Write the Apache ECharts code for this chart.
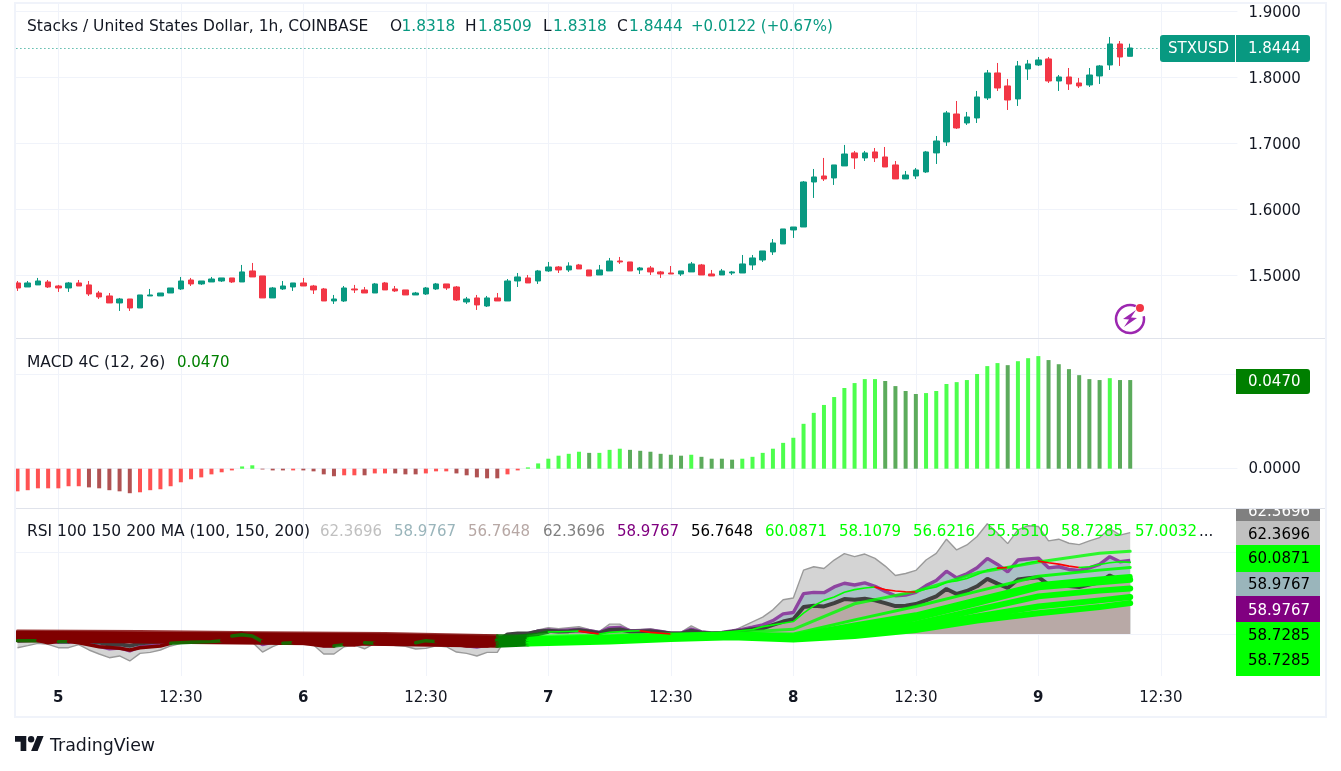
<!DOCTYPE html>
<html><head><meta charset="utf-8">
<style>html,body{margin:0;padding:0;background:#fff}#c{width:1341px;height:771px}</style>
<script src="https://cdn.jsdelivr.net/npm/echarts@6/dist/echarts.min.js"></script>
</head><body><div id="c"></div>
<script>
const FONT = '"DejaVu Sans"';
// [open, close, low, high]
const candles = [
[1.4884,1.4808,1.4763,1.4914],[1.4823,1.4884,1.4823,1.4914],[1.4854,1.4914,1.4854,1.4960],[1.4899,1.4823,1.4808,1.4929],
[1.4838,1.4808,1.4748,1.4854],[1.4808,1.4884,1.4748,1.4899],[1.4884,1.4838,1.4838,1.4929],[1.4854,1.4717,1.4687,1.4914],
[1.4732,1.4672,1.4641,1.4763],[1.4687,1.4581,1.4581,1.4732],[1.4581,1.4641,1.4460,1.4657],[1.4641,1.4505,1.4460,1.4641],
[1.4505,1.4702,1.4505,1.4702],[1.4687,1.4702,1.4687,1.4793],[1.4687,1.4732,1.4687,1.4732],[1.4732,1.4808,1.4732,1.4808],
[1.4793,1.4914,1.4778,1.4975],[1.4929,1.4869,1.4838,1.4960],[1.4869,1.4914,1.4854,1.4914],[1.4899,1.4944,1.4899,1.4975],
[1.4914,1.4960,1.4899,1.4960],[1.4960,1.4899,1.4884,1.4960],[1.4899,1.5051,1.4899,1.5157],[1.5066,1.4975,1.4975,1.5187],
[1.4990,1.4657,1.4657,1.4990],[1.4657,1.4808,1.4657,1.4823],[1.4793,1.4838,1.4778,1.4914],[1.4823,1.4884,1.4763,1.4884],
[1.4884,1.4838,1.4838,1.4960],[1.4838,1.4778,1.4717,1.4854],[1.4793,1.4611,1.4611,1.4808],[1.4611,1.4641,1.4566,1.4702],
[1.4611,1.4808,1.4596,1.4838],[1.4793,1.4778,1.4732,1.4854],[1.4778,1.4732,1.4732,1.4823],[1.4732,1.4869,1.4732,1.4884],
[1.4884,1.4778,1.4778,1.4899],[1.4793,1.4763,1.4748,1.4838],[1.4778,1.4702,1.4702,1.4778],[1.4702,1.4732,1.4702,1.4748],
[1.4717,1.4808,1.4702,1.4823],[1.4793,1.4869,1.4778,1.4884],[1.4869,1.4808,1.4778,1.4869],[1.4823,1.4626,1.4611,1.4838],
[1.4596,1.4641,1.4566,1.4672],[1.4657,1.4551,1.4475,1.4702],[1.4535,1.4657,1.4520,1.4687],[1.4657,1.4611,1.4611,1.4732],
[1.4611,1.4914,1.4611,1.4944],[1.4914,1.4975,1.4823,1.5035],[1.4960,1.4884,1.4884,1.5005],[1.4914,1.5066,1.4869,1.5081],
[1.5066,1.5126,1.5051,1.5202],[1.5126,1.5081,1.5035,1.5141],[1.5081,1.5141,1.5051,1.5197],[1.5157,1.5096,1.5096,1.5172],
[1.5081,1.4990,1.4990,1.5081],[1.5005,1.5081,1.5005,1.5157],[1.5066,1.5217,1.5066,1.5263],[1.5217,1.5202,1.5172,1.5278],
[1.5202,1.5066,1.5066,1.5202],[1.5081,1.5111,1.5020,1.5126],[1.5111,1.5051,1.5005,1.5141],[1.5051,1.5020,1.4960,1.5066],
[1.5035,1.5020,1.5020,1.5141],[1.5020,1.5066,1.4990,1.5066],[1.5051,1.5172,1.5051,1.5202],[1.5157,1.5005,1.5005,1.5172],
[1.5020,1.4990,1.4990,1.5081],[1.5005,1.5066,1.5005,1.5096],[1.5035,1.5051,1.5005,1.5066],[1.5035,1.5172,1.5035,1.5308],
[1.5157,1.5263,1.5081,1.5308],[1.5232,1.5369,1.5202,1.5369],[1.5354,1.5490,1.5308,1.5550],[1.5475,1.5702,1.5475,1.5702],
[1.5687,1.5732,1.5566,1.5732],[1.5732,1.6414,1.5732,1.6429],[1.6414,1.6490,1.6172,1.6611],[1.6505,1.6460,1.6429,1.6778],
[1.6475,1.6672,1.6369,1.6672],[1.6657,1.6838,1.6657,1.6975],[1.6854,1.6778,1.6611,1.6884],[1.6778,1.6854,1.6732,1.6884],
[1.6869,1.6778,1.6717,1.6929],[1.6793,1.6641,1.6641,1.6944],[1.6672,1.6460,1.6460,1.6732],[1.6460,1.6520,1.6460,1.6581],
[1.6505,1.6596,1.6460,1.6626],[1.6566,1.6869,1.6551,1.6884],[1.6854,1.7035,1.6687,1.7111],[1.7020,1.7460,1.6960,1.7490],
[1.7444,1.7232,1.7217,1.7641],[1.7308,1.7399,1.7278,1.7475],[1.7384,1.7702,1.7308,1.7793],[1.7687,1.8066,1.7656,1.8111],
[1.8066,1.7838,1.7793,1.8217],[1.7869,1.7656,1.7505,1.7975],[1.7672,1.8172,1.7566,1.8247],[1.8126,1.8202,1.7960,1.8263],
[1.8187,1.8263,1.8172,1.8308],[1.8278,1.7944,1.7914,1.8308],[1.7944,1.8005,1.7793,1.8035],[1.8005,1.7899,1.7808,1.8141],
[1.7914,1.7869,1.7838,1.7990],[1.7884,1.8035,1.7853,1.8141],[1.8020,1.8172,1.7899,1.8187],[1.8187,1.8505,1.8111,1.8611],
[1.8505,1.8308,1.8172,1.8550],[1.8318,1.8444,1.8318,1.8509]];
const macdValues = [
-.0120,-.0114,-.0104,-.0104,-.0104,-.0093,-.0093,-.0099,-.0104,-.0114,-.0120,-.0130,-.0125,-.0114,-.0109,-.0093,-.0072,-.0056,-.0046,-.0030,-.0019,-.0009,
.0012,.0018,-.0004,-.0009,-.0009,-.0009,-.0009,-.0014,-.0030,-.0040,-.0035,-.0035,-.0035,-.0025,-.0025,-.0025,-.0030,-.0030,-.0025,-.0014,-.0014,-.0025,-.0035,-.0046,-.0051,-.0051,-.0030,-.0009,
.0007,.0028,.0053,.0069,.0079,.0090,.0084,.0084,.0100,.0106,.0100,.0095,.0090,.0079,.0074,.0069,.0074,.0063,.0053,.0053,.0048,.0053,.0063,.0084,.0106,.0137,.0164,.0238,.0296,.0338,.0380,.0428,.0454,.0475,.0475,.0465,.0438,.0412,.0396,.0401,.0412,.0449,.0459,.0470,.0502,.0544,.0560,.0549,.0570,.0586,.0597,.0576,.0554,.0528,.0496,.0475,.0470,.0480,.0470,.0470];
// L = strong shade, D = fading shade
const macdShade = 'LLLLLLLDDDDDLLLLLLLLLLLLDDDLDDDDLLDLLDDDLLLDDDDDLLLLLLLLDLLLDDDDDDLDDDDLLLLLLLLLLLLLLDDDDLLLLLLLLDLLLDDDDDDLDD';
const rsiGray = [48.33,48.58,48.86,48.74,48.33,48.33,48.7,48.05,47.56,47.11,47.32,46.71,47.64,47.76,48.05,48.54,48.86,49.0,49.1,49.2,49.4,49.6,50.0,49.0,47.8,48.45,48.94,49.0,49.0,48.66,47.56,47.56,48.45,48.65,48.2,48.85,48.85,48.6,48.5,48.17,48.25,48.55,48.45,47.8,47.64,47.32,47.76,47.76,49.8,50.0,50.0,50.49,50.77,50.65,50.77,50.89,50.57,50.3,51.2,51.2,50.49,50.57,50.65,50.41,50.2,50.2,50.98,50.37,50.2,50.28,50.33,
50.90,51.48,52.05,52.95,54.18,54.39,57.79,58.20,57.99,59.02,59.80,59.43,59.75,59.22,58.28,57.13,57.38,57.75,59.02,59.84,61.56,60.25,60.86,61.89,63.44,62.30,61.02,62.70,63.20,63.11,61.35,61.56,61.07,60.90,61.35,61.76,62.87,62.05,62.37];
const rsiPurple = [49.1,49.2,49.3,49.2,49.0,49.0,49.2,48.8,48.5,48.2,48.3,47.95,48.45,48.6,48.8,49.1,49.3,49.4,49.5,49.6,49.7,49.8,50.0,49.5,48.7,49.0,49.2,49.3,49.3,49.1,48.55,48.55,49.0,49.1,48.9,49.2,49.2,49.1,49.1,48.95,49.0,49.2,49.1,48.7,48.55,48.4,48.65,48.65,49.85,50.05,50.08,50.35,50.5,50.4,50.5,50.55,50.4,50.2,50.75,50.8,50.4,50.4,50.45,50.3,50.1,50.1,50.6,50.25,50.12,50.2,
50.37,50.57,50.82,51.11,51.64,52.46,52.62,54.92,55.08,55.04,55.74,56.19,55.98,56.23,55.82,55.20,54.67,54.75,55.08,55.90,56.52,57.66,56.84,57.34,58.07,59.22,58.48,57.58,59.02,59.14,59.26,58.07,58.20,57.87,57.75,58.07,58.48,59.43,58.81,58.98];
const rsiBlack = [49.3,49.4,49.45,49.4,49.25,49.25,49.4,49.1,48.95,48.7,48.75,48.55,48.85,49,49.1,49.3,49.5,49.6,49.6,49.7,49.8,49.9,50.05,49.7,49.1,49.25,49.4,49.5,49.5,49.35,49,49,49.35,49.4,49.25,49.45,49.45,49.4,49.35,49.25,49.3,49.45,49.4,49.1,49,48.95,49.1,49.1,49.95,50.05,50.05,50.3,50.4,50.3,50.35,50.45,50.3,50.1,50.5,50.55,50.3,50.3,50.35,50.2,50.05,50.05,50.4,50.15,50.05,50.1,
50.29,50.41,50.57,50.70,51.11,51.52,51.80,53.28,53.44,53.36,53.77,54.26,54.18,54.30,54.10,53.77,53.40,53.44,53.65,54.10,54.59,55.49,54.88,55.25,55.82,56.72,56.15,55.61,56.64,56.80,56.93,56.02,56.07,55.86,55.74,56.02,56.31,57.13,56.52,56.76];
// RSI moving averages, read at these bar indexes
const maIndex = [0,12,24,36,47,50,58,64,70,76,82,88,94,100,106,109];
const maA = [50.37,50.3,50.15,50.05,49.8,49.75,49.85,50.0,50.15,50.57,53.69,55.2,57.46,58.77,59.84,60.09];
const maC = [50.2,50.1,50.0,49.9,49.6,49.55,49.7,49.9,50.05,50.0,51.72,53.36,55.2,57.05,57.79,58.11];
const maD = [50.05,49.95,49.85,49.7,49.4,49.4,49.6,49.8,49.95,49.75,51.11,52.34,54.18,56.02,56.72,57.0];
const maE = [49.9,49.8,49.65,49.5,49.2,49.25,49.5,49.7,49.9,49.67,50.7,51.93,53.77,55.7,56.31,56.62];
const maF = [49.75,49.6,49.45,49.3,49.0,49.1,49.35,49.6,49.75,49.59,50.29,51.23,52.95,54.59,55.29,55.55];
const maG = [49.55,49.4,49.25,49.1,48.85,49.0,49.25,49.5,49.7,49.47,50.0,50.9,52.13,53.36,54.1,54.5];
const maH = [49.35,49.2,49.05,48.9,48.7,48.85,49.1,49.4,49.6,49.34,49.75,50.49,51.64,52.54,53.28,53.77];
// fast RSI average as [bar, value]
const maFast = [[0,49.19],[1,49.19],[2,49.19],[3,48.94],[4,49.07],[5,49.07],[6,48.94],[8,48.45],[10,48.25],[11,48.05],[12,48.33],[14,48.54],[15,48.86],[17,48.98],[19,49.07],[20,49.19],[21,49.76],[22,49.92],[23,49.76],[24,49.07],[26,48.86],[27,48.94],[28,48.86],[30,48.54],[31,48.54],[32,48.7],[33,48.66],[34,48.94],[35,48.86],[36,48.78],[38,48.78],[39,48.94],[40,49.19],[41,49.07],[42,48.86],[44,48.54],[46,48.54],[47,48.86],[48,49.35],[49,49.67],[50,49.84],[51,49.96],[52,50.25],[54,50.3],[55,50.35],[57,50.0],[58,50.2],[60,50.35],[61,50.4],[62,50.2],[64,50.0],[66,49.95],[67,50.0],[70,50.3],[72,50.55],[73,50.9],[75,51.31],[76,51.52],[77,52.54],[78,53.44],[79,54.1],[80,54.51],[81,55.08],[82,55.41],[83,55.61],[84,55.74],[85,55.41],[86,55.25],[87,55.16],[88,55.12],[89,55.49],[90,55.74],[91,56.31],[92,56.48],[93,56.76],[94,57.25],[95,57.79],[96,58.03],[97,58.11],[98,58.36],[99,58.69],[100,58.89],[101,58.69],[102,58.52],[103,58.28],[104,58.11],[105,58.2],[106,58.48],[107,58.69],[108,58.81],[109,58.73]];
const dkG='#008000', dkR='#800000', lime='#00ff00', hot='#ff0000';
const fastSegments = [[0,2,dkG],[2,4,dkR],[4,5,dkG],[5,15,dkR],[15,20,dkG],[20,21,dkR],[21,24,dkG],[24,26,dkR],[26,27,dkG],[27,31,dkR],[31,32,dkG],[32,34,dkR],[34,35,dkG],[35,39,dkR],[39,41,dkG],[41,47,dkR],[47,52,dkG],[52,55,lime],[55,57,hot],[57,61,lime],[61,64,hot],[64,84,lime],[84,88,hot],[88,96,lime],[96,97,hot],[97,100,lime],[100,104,hot],[104,109,lime]];
const slotCount = 120;
const timeTicks = {4:'5',16:'12:30',28:'6',40:'12:30',52:'7',64:'12:30',76:'8',88:'12:30',100:'9',112:'12:30'};
const categories = Array.from({length:slotCount},(_,i)=>timeTicks[i]||'');
const macdColors = {up:{L:'#4dff4d',D:'#5cab5c'},down:{L:'#ff5252',D:'#b05252'}};

const LEFT=12.4, WIDTH=1225;
const grids=[
 {left:LEFT,width:WIDTH,top:3,height:673},
 {left:LEFT,width:WIDTH,top:11.3,height:330},
 {left:LEFT,width:WIDTH,top:280.1,height:282.9},
 {left:LEFT,width:WIDTH,top:470,height:246}
];
const gridLine={lineStyle:{color:'#f0f3fa',width:1}};
const xAxes=grids.map((g,i)=>({
  type:'category',gridIndex:i,data:categories,boundaryGap:true,show:i===0,
  axisLine:{show:false},axisTick:{show:false},
  splitLine:{show:i===0,alignWithLabel:true,interval:(idx,v)=>v!=='',...gridLine},
  axisLabel:{show:i===0,interval:0,margin:15,color:'#131722',fontFamily:FONT,fontSize:15,
    formatter:v=>(v&&v.length===1)?`{d|${v}}`:v,rich:{d:{fontWeight:'bold',fontFamily:FONT,fontSize:15,color:'#131722'}}}
}));
const yAxes=[
 {gridIndex:0,type:'value',show:false,min:0,max:1},
 {gridIndex:1,type:'value',position:'right',min:1.4,max:1.9,interval:.1,
  axisLine:{show:false},axisTick:{show:false},
  splitLine:{show:true,showMinLine:false,...gridLine},
  axisLabel:{showMinLabel:false,margin:11,color:'#131722',fontFamily:FONT,fontSize:15,formatter:v=>`{p|${v.toFixed(4)}}`,
    rich:{p:{padding:[4,0,0,0],fontFamily:FONT,fontSize:15,color:'#131722'}}}},
 {gridIndex:2,type:'value',position:'right',min:-.05,max:.1,interval:.05,
  axisLine:{show:false},axisTick:{show:false},
  splitLine:{show:true,showMinLine:false,showMaxLine:false,...gridLine},
  axisLabel:{margin:11,color:'#131722',fontFamily:FONT,fontSize:15,formatter:v=>Math.abs(v)<1e-9?'0.0000':''}},
 {gridIndex:3,type:'value',position:'right',min:40,max:70,interval:10,
  axisLine:{show:false},axisTick:{show:false},axisLabel:{show:false},
  splitLine:{show:true,showMinLine:false,showMaxLine:false,...gridLine}}
];
const rsiLine=(name,data,color,width,fill)=>({name,type:'line',xAxisIndex:3,yAxisIndex:3,data,showSymbol:false,silent:true,
  lineStyle:{color,width},areaStyle:{color:fill,opacity:1,origin:50}});
const maPairs=(vals)=>maIndex.map((b,i)=>[b,vals[i]]);
const seg=(pairs,from,to,color,width,opacity=1)=>({type:'line',xAxisIndex:3,yAxisIndex:3,showSymbol:false,silent:true,
  data:pairs.filter(p=>p[0]>=from&&p[0]<=to),lineStyle:{color,width,opacity,cap:'round',join:'round'}});
const maLine=(vals,width,op=1)=>[seg(maPairs(vals),0,47,dkR,width,op),seg(maPairs(vals),47,50,dkG,width,op),seg(maPairs(vals),50,109,lime,width,op)];

const series=[
 {type:'candlestick',xAxisIndex:1,yAxisIndex:1,data:candles,barWidth:6,
  itemStyle:{color:'#089981',color0:'#F23645',borderColor:'#089981',borderColor0:'#F23645',borderWidth:1},
  markLine:{silent:true,symbol:'none',precision:4,label:{show:false},
    lineStyle:{color:'#089981',type:[1,3],width:1.2,opacity:1},data:[{yAxis:1.8444}]}},
 {type:'bar',xAxisIndex:2,yAxisIndex:2,barWidth:4,silent:true,
  data:macdValues.map((v,i)=>({value:v,itemStyle:{color:macdColors[v>=0?'up':'down'][macdShade[i]]}}))},
 rsiLine('RSI 100',rsiGray,'#9a9a9a',1.4,'#d4d4d4'),
 rsiLine('RSI 150',rsiPurple,'#8e44a0',3.4,'#abc0c6'),
 rsiLine('RSI 200',rsiBlack,'#404040',4,'#b8a9a6'),
 ...maLine(maH,6),...maLine(maG,6),...maLine(maF,6),...maLine(maE,6),...maLine(maD,5),...maLine(maC,3,.9),...maLine(maA,3,.8),
 ...fastSegments.map(([a,b,c])=>seg(maFast,a,b,c,(c===dkG||c===dkR)?3.5:1.6,(c===dkG)?.8:1))
];

const LEG=15.5, NUM=15;
const txt=(x,y,text,fill,extra={})=>({type:'text',z:100,style:{x,y:y+1,text,fill,font:`${extra.weight||'normal'} ${extra.size||NUM}px ${FONT}`,verticalAlign:'middle',align:extra.align||'left'}});
const rect=(x,y,w,h,fill,r=0,z=99)=>({type:'rect',z,shape:{x,y,width:w,height:h,r},style:{fill}});
const teal='#089981';
const ohlc=(x,k,v,off)=>[txt(x,26,k,'#131722',{size:15.4}),txt(x+off,26,v,teal,{size:15.4})];
const rsiVals=[[320,'62.3696','#c0c0c0'],[394,'58.9767','#9ab5bb'],[468,'56.7648','#b7a8a5'],[543,'62.3696','#808080'],[617,'58.9767','#800080'],[691,'56.7648','#000000'],[765,'60.0871',lime],[839,'58.1079',lime],[913,'56.6216',lime],[987,'55.5510',lime],[1061,'58.7285',lime],[1135,'57.0032',lime]];
const box=(y0,y1,fill,text,color,cy)=>[rect(1236,y0,84,y1-y0,fill),txt(1248,cy,text,color,{})];
const graphic=[
 rect(0,0,14,771,'#ffffff',0,90),
 rect(14,3,2,715,'#f0f3fa',0,91),
 rect(1325,3,2,715,'#f0f3fa',0,91),
 rect(14,2,1313,2,'#f0f3fa',0,91),
 rect(14,716,1313,2,'#f0f3fa',0,91),
 rect(16,338,1309,1,'#e0e3eb',0,91),
 rect(16,508,1309,1,'#e0e3eb',0,91),
 txt(27,26,'Stacks / United States Dollar, 1h, COINBASE','#131722',{size:LEG}),
 ...ohlc(390,'O','1.8318',11.5),...ohlc(465,'H','1.8509',13),...ohlc(543,'L','1.8318',10),...ohlc(617,'C','1.8444',12),
 txt(691,26,'+0.0122 (+0.67%)',teal,{size:15}),
 rect(1160,35,75,27,teal,[3,0,0,3]),rect(1236,35,74,27,teal,[0,3,3,0]),
 txt(1168,48,'STXUSD','#ffffff'),txt(1248,48,'1.8444','#ffffff'),
 txt(27,362,'MACD 4C (12, 26)','#131722',{size:LEG}),txt(177,362,'0.0470','#008000'),
 rect(1236,369,74,25,'#007f00',[0,3,3,0]),txt(1248,381,'0.0470','#ffffff'),
 txt(27,531,'RSI 100 150 200 MA (100, 150, 200)','#131722',{size:LEG}),
 ...rsiVals.map(([x,t,c])=>txt(x,531,t,c)),
 txt(1199,531,'...','#131722'),
 ...box(508,521,'#808080','62.3696','#ffffff',511),
 rect(1236,496,84,12,'#ffffff',0,101),
 rect(1236,508,84,1,'#e0e3eb',0,102),
 ...box(521,545,'#c0c0c0','62.3696','#000000',534),
 ...box(545,572,lime,'60.0871','#000000',558),
 ...box(572,596,'#9ab5bb','58.9767','#000000',584),
 ...box(596,622,'#800080','58.9767','#ffffff',610),
 rect(1236,622,84,54,lime),
 txt(1248,635,'58.7285','#000000'),txt(1248,660,'58.7285','#000000'),
 {type:'arc',z:100,shape:{cx:1130,cy:319,r:14,startAngle:-0.2,endAngle:-1.15,clockwise:true},style:{stroke:'#9c27b0',lineWidth:2.5,fill:null}},
 {type:'polygon',z:100,shape:{points:[[1136,310],[1123,319],[1129,319.5],[1124,327],[1137,318],[1131,317.5]]},style:{fill:'#9c27b0'}},
 {type:'circle',z:100,shape:{cx:1140,cy:308,r:4},style:{fill:'#f23645'}},
 {type:'polygon',z:100,shape:{points:[[15,736],[26.3,736],[26.3,751],[20.6,751],[20.6,741.8],[15,741.8]]},style:{fill:'#131722'}},
 {type:'polygon',z:100,shape:{points:[[31.1,751],[37.2,736],[43.6,736],[37.6,751]]},style:{fill:'#131722'}},
 {type:'circle',z:100,shape:{cx:31.1,cy:739.3,r:3.2},style:{fill:'#131722'}},
 txt(50,745,'TradingView','#131722',{size:17.4})
];
const chart=echarts.init(document.getElementById('c'),null,{renderer:'canvas'});
chart.setOption({animation:false,backgroundColor:'#ffffff',grid:grids,xAxis:xAxes,yAxis:yAxes,series,graphic,tooltip:{show:false}});
</script></body></html>
